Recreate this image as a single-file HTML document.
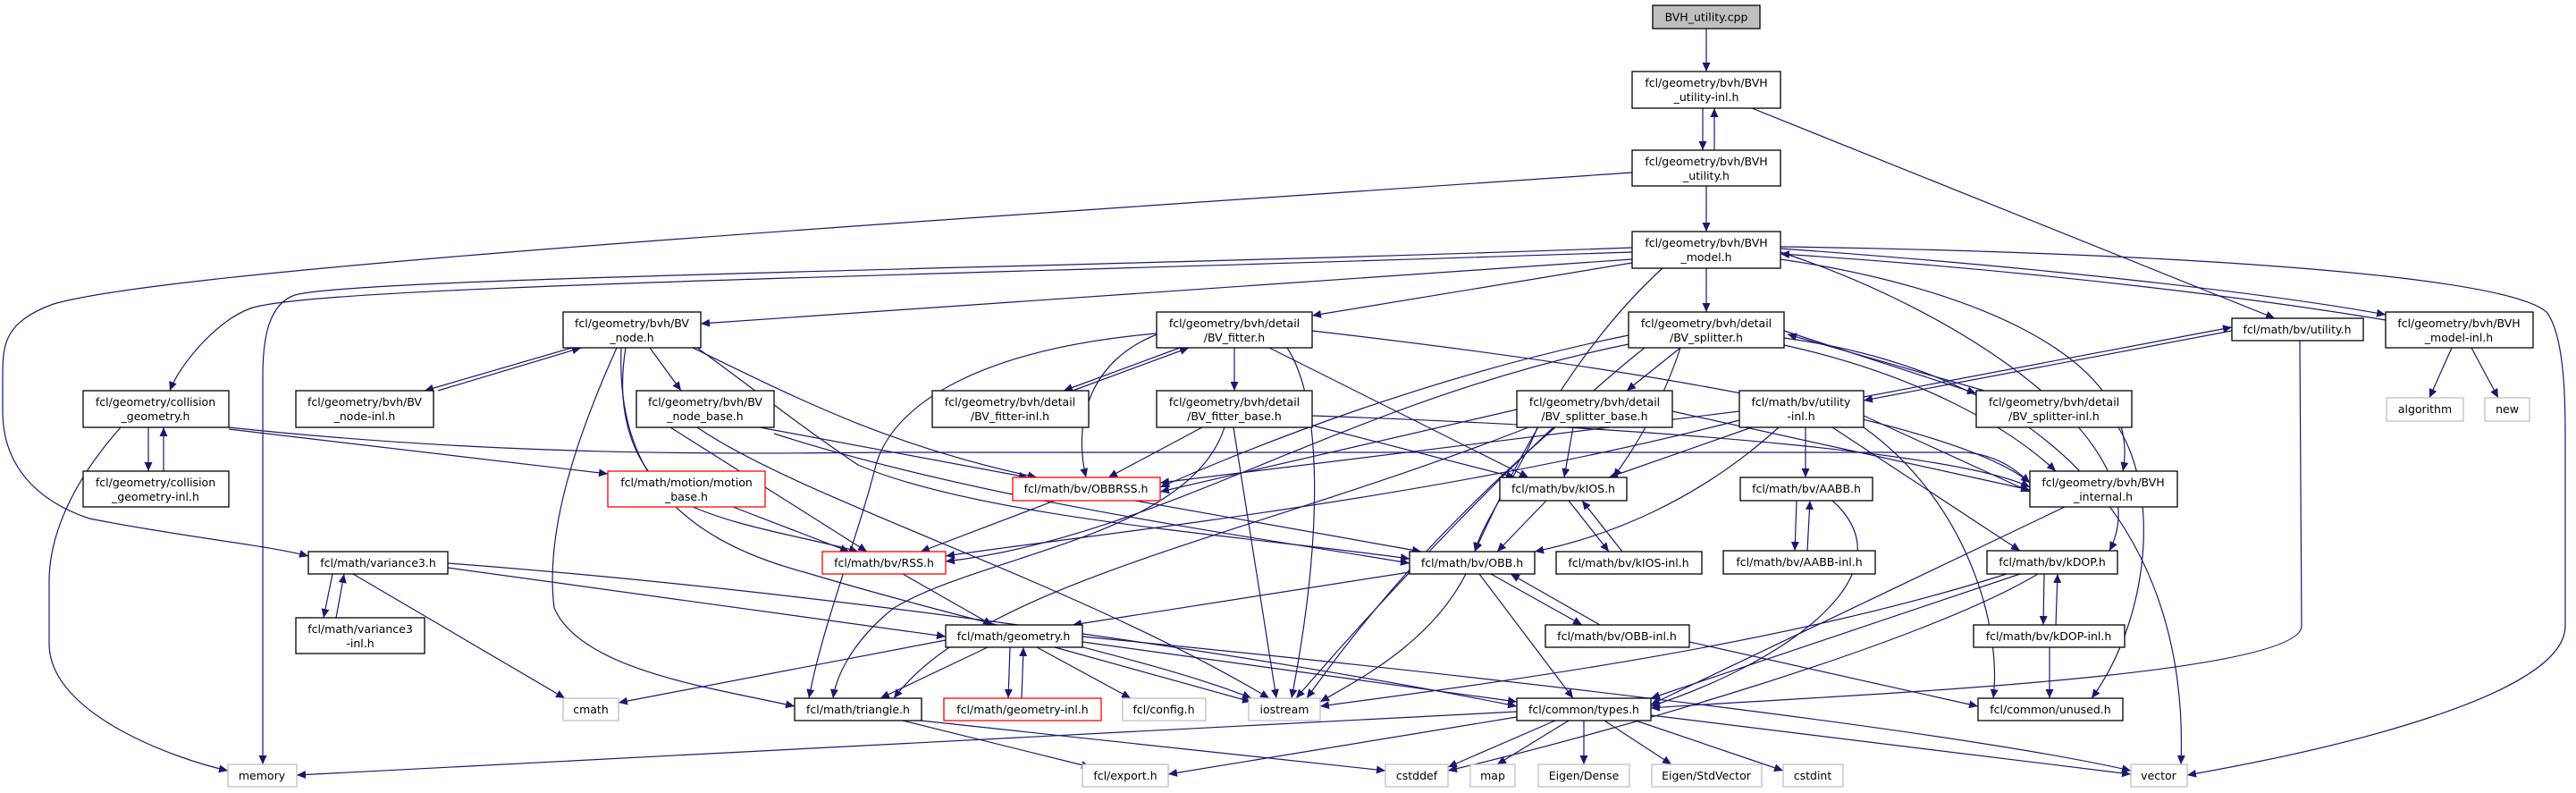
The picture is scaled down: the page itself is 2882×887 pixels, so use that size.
<!DOCTYPE html>
<html><head><meta charset="utf-8"><style>
html,body{margin:0;padding:0;background:#fff;}
svg{display:block;}
text{font-family:"DejaVu Sans","Liberation Sans",sans-serif;font-size:12.5px;fill:#000;}
.n{fill:#fff;stroke:#000;stroke-width:1.3;}
.r{fill:#fff;stroke:#ff0000;stroke-width:1.3;}
.g{fill:#fff;stroke:#bfbfbf;stroke-width:1.3;}
.e path{fill:none;stroke:#191970;stroke-width:1.2;}
</style></head><body>
<svg width="2882" height="887" viewBox="0 0 2882 887" xmlns="http://www.w3.org/2000/svg">
<defs><marker id="a" markerUnits="userSpaceOnUse" markerWidth="11" markerHeight="9" refX="10" refY="4.5" orient="auto"><path d="M0,0 L10,4.5 L0,9 z" fill="#191970"/></marker></defs>
<g class="e" marker-end="url(#a)">
<path d="M1909,32 L1909,80"/>
<path d="M1905,121 L1905,168"/>
<path d="M1918,168 L1918,121"/>
<path d="M1960,121 L2545,356"/>
<path d="M1909,208 L1909,259"/>
<path d="M1826,193 C1000,250 200,300 60,340 C5,360 3,385 3,420 L3,460 C3,520 40,560 100,580 C200,600 300,610 345,622"/>
<path d="M1826,277 C1200,300 400,310 330,330 C300,340 294,380 294,420 L294,855"/>
<path d="M1826,282 C1000,310 350,320 280,345 C240,360 200,410 190,437"/>
<path d="M1826,290 L784,362"/>
<path d="M1826,294 L1468,353"/>
<path d="M1909,300 L1909,349"/>
<path d="M1860,300 C1750,400 1680,550 1650,617"/>
<path d="M1992,278 C2300,300 2550,330 2669,352"/>
<path d="M2669,358 C2550,338 2300,304 1992,284"/>
<path d="M1992,276 C2300,280 2800,300 2850,350 C2870,380 2870,450 2870,500 L2870,700 C2870,780 2600,840 2447,867"/>
<path d="M1992,290 C2200,320 2400,400 2375,527"/>
<path d="M1992,282 C2200,350 2420,500 2360,616"/>
<path d="M2573,381 L2575,700 C2575,760 2000,780 1847,792"/>
<path d="M2497,370 L2085,448"/>
<path d="M2085,444 L2497,366"/>
<path d="M640,389 L475,437"/>
<path d="M490,437 L650,389"/>
<path d="M727,389 L762,437"/>
<path d="M775,389 C900,450 1000,500 1160,534"/>
<path d="M700,389 C690,450 700,520 760,560 C820,590 900,600 960,617"/>
<path d="M780,389 C850,440 900,480 960,520 C1100,580 1400,600 1577,625"/>
<path d="M690,389 C640,500 610,600 620,680 C650,750 800,770 889,790"/>
<path d="M695,389 C690,520 750,600 900,640 C1100,700 1300,740 1400,781"/>
<path d="M166,478 L166,527"/>
<path d="M183,527 L183,478"/>
<path d="M135,478 C80,540 55,600 55,650 L55,720 C55,800 200,850 255,862"/>
<path d="M256,480 L680,530"/>
<path d="M256,478 C600,515 900,506 1000,506 L2200,506 C2240,510 2260,530 2271,540"/>
<path d="M820,567 L950,617"/>
<path d="M850,478 L1150,534"/>
<path d="M750,478 L970,617"/>
<path d="M866,485 C1100,560 1400,600 1577,630"/>
<path d="M780,478 C900,560 1200,650 1420,781"/>
<path d="M1320,389 L1190,437"/>
<path d="M1200,437 L1330,389"/>
<path d="M1381,389 L1381,437"/>
<path d="M1300,372 C1220,400 1200,470 1215,534"/>
<path d="M1420,389 L1710,534"/>
<path d="M1440,389 C1480,450 1480,600 1445,781"/>
<path d="M1468,370 C1900,420 2200,480 2271,540"/>
<path d="M1294,373 C1100,390 1000,450 980,520 C960,600 920,700 905,781"/>
<path d="M1345,478 L1240,534"/>
<path d="M1465,475 L1695,534"/>
<path d="M1380,478 L1428,781"/>
<path d="M1370,478 C1330,600 1100,620 1000,680 C950,720 935,760 932,781"/>
<path d="M1468,465 C1900,480 2200,510 2271,545"/>
<path d="M1880,389 L1820,437"/>
<path d="M1996,370 L2211,440"/>
<path d="M2220,437 L2000,374"/>
<path d="M1822,375 C1600,420 1400,500 1298,545"/>
<path d="M1880,389 C1860,450 1830,500 1805,534"/>
<path d="M1840,389 C1700,500 1520,700 1450,781"/>
<path d="M1996,378 C2300,420 2450,600 2440,855"/>
<path d="M1996,386 C2150,420 2250,480 2300,527"/>
<path d="M1822,385 C1500,450 1300,600 1058,628"/>
<path d="M1697,458 L1298,550"/>
<path d="M1760,478 L1750,534"/>
<path d="M1720,478 C1700,530 1660,580 1650,617"/>
<path d="M1740,478 C1600,600 1520,700 1462,781"/>
<path d="M1871,460 L2271,548"/>
<path d="M1710,478 C1400,600 1100,650 1000,781"/>
<path d="M2020,478 L2020,534"/>
<path d="M1946,460 L1298,540"/>
<path d="M1960,478 L1800,534"/>
<path d="M1990,478 C1900,560 1800,600 1717,617"/>
<path d="M1946,470 C1600,560 1200,600 1058,622"/>
<path d="M2050,478 L2260,616"/>
<path d="M2085,465 L2271,550"/>
<path d="M2085,478 C2200,560 2240,700 2230,781"/>
<path d="M1730,560 L1675,617"/>
<path d="M1755,560 L1800,617"/>
<path d="M1815,617 L1770,560"/>
<path d="M1270,560 L1590,617"/>
<path d="M1180,560 L1030,617"/>
<path d="M2010,560 L2008,616"/>
<path d="M2022,616 L2025,560"/>
<path d="M2050,560 C2140,640 2000,740 1847,790"/>
<path d="M1010,642 L1110,699"/>
<path d="M1577,640 L1200,699"/>
<path d="M1640,642 C1600,720 1520,760 1477,785"/>
<path d="M1655,642 L1760,781"/>
<path d="M1668,642 L1770,699"/>
<path d="M1790,699 L1690,642"/>
<path d="M1890,718 L2213,790"/>
<path d="M372,642 L362,691"/>
<path d="M376,691 L385,642"/>
<path d="M395,642 L632,781"/>
<path d="M501,635 L1058,712"/>
<path d="M501,630 C900,660 1400,730 1697,790"/>
<path d="M2287,642 L2286,699"/>
<path d="M2300,699 L2302,642"/>
<path d="M2293,724 L2293,781"/>
<path d="M2260,642 L1847,781"/>
<path d="M2245,642 C2000,720 1700,760 1477,790"/>
<path d="M2280,642 C2150,720 1800,820 1620,862"/>
<path d="M1130,724 L1128,781"/>
<path d="M1143,781 L1145,724"/>
<path d="M1058,716 L692,786"/>
<path d="M1105,724 L985,781"/>
<path d="M1160,724 L1265,781"/>
<path d="M1180,724 L1400,785"/>
<path d="M1211,718 L1697,785"/>
<path d="M1211,712 C1700,760 2200,820 2384,862"/>
<path d="M1010,806 L1220,858"/>
<path d="M1030,806 L1550,862"/>
<path d="M1697,796 L332,867"/>
<path d="M1697,802 L1307,866"/>
<path d="M1740,806 L1620,858"/>
<path d="M1755,806 L1675,855"/>
<path d="M1772,806 L1772,855"/>
<path d="M1795,806 L1870,855"/>
<path d="M1830,806 L1995,862"/>
<path d="M1847,800 L2384,866"/>
<path d="M2310,567 L1847,788"/>
<path d="M2370,478 C2420,560 2400,700 2340,781"/>
<path d="M2743,389 L2718,445"/>
<path d="M2765,389 L2795,445"/>
</g>
<g>
<rect x="1849" y="6" width="120" height="26" fill="#bfbfbf" stroke="#000" stroke-width="1.3"/><text x="1909" y="23.5" text-anchor="middle">BVH_utility.cpp</text>
<rect class="n" x="1826" y="80" width="166" height="41"/><text x="1909" y="97" text-anchor="middle">fcl/geometry/bvh/BVH</text><text x="1909" y="113" text-anchor="middle">_utility-inl.h</text>
<rect class="n" x="1826" y="168" width="166" height="40"/><text x="1909" y="185" text-anchor="middle">fcl/geometry/bvh/BVH</text><text x="1909" y="201" text-anchor="middle">_utility.h</text>
<rect class="n" x="1826" y="259" width="166" height="41"/><text x="1909" y="276" text-anchor="middle">fcl/geometry/bvh/BVH</text><text x="1909" y="292" text-anchor="middle">_model.h</text>
<rect class="n" x="630" y="349" width="154" height="40"/><text x="707" y="366" text-anchor="middle">fcl/geometry/bvh/BV</text><text x="707" y="382" text-anchor="middle">_node.h</text>
<rect class="n" x="1294" y="349" width="174" height="40"/><text x="1381" y="366" text-anchor="middle">fcl/geometry/bvh/detail</text><text x="1381" y="382" text-anchor="middle">/BV_fitter.h</text>
<rect class="n" x="1822" y="349" width="174" height="40"/><text x="1909" y="366" text-anchor="middle">fcl/geometry/bvh/detail</text><text x="1909" y="382" text-anchor="middle">/BV_splitter.h</text>
<rect class="n" x="2497" y="356" width="147" height="25"/><text x="2570" y="373" text-anchor="middle">fcl/math/bv/utility.h</text>
<rect class="n" x="2669" y="349" width="165" height="40"/><text x="2751" y="366" text-anchor="middle">fcl/geometry/bvh/BVH</text><text x="2751" y="382" text-anchor="middle">_model-inl.h</text>
<rect class="n" x="93" y="437" width="163" height="41"/><text x="174" y="454" text-anchor="middle">fcl/geometry/collision</text><text x="174" y="470" text-anchor="middle">_geometry.h</text>
<rect class="n" x="331" y="437" width="154" height="41"/><text x="408" y="454" text-anchor="middle">fcl/geometry/bvh/BV</text><text x="408" y="470" text-anchor="middle">_node-inl.h</text>
<rect class="n" x="712" y="437" width="154" height="41"/><text x="789" y="454" text-anchor="middle">fcl/geometry/bvh/BV</text><text x="789" y="470" text-anchor="middle">_node_base.h</text>
<rect class="n" x="1043" y="437" width="175" height="41"/><text x="1130" y="454" text-anchor="middle">fcl/geometry/bvh/detail</text><text x="1130" y="470" text-anchor="middle">/BV_fitter-inl.h</text>
<rect class="n" x="1294" y="437" width="174" height="41"/><text x="1381" y="454" text-anchor="middle">fcl/geometry/bvh/detail</text><text x="1381" y="470" text-anchor="middle">/BV_fitter_base.h</text>
<rect class="n" x="1697" y="437" width="174" height="41"/><text x="1784" y="454" text-anchor="middle">fcl/geometry/bvh/detail</text><text x="1784" y="470" text-anchor="middle">/BV_splitter_base.h</text>
<rect class="n" x="1946" y="437" width="139" height="41"/><text x="2015" y="454" text-anchor="middle">fcl/math/bv/utility</text><text x="2015" y="470" text-anchor="middle">-inl.h</text>
<rect class="n" x="2211" y="437" width="174" height="41"/><text x="2298" y="454" text-anchor="middle">fcl/geometry/bvh/detail</text><text x="2298" y="470" text-anchor="middle">/BV_splitter-inl.h</text>
<rect class="g" x="2670" y="445" width="86" height="26"/><text x="2713" y="462" text-anchor="middle">algorithm</text>
<rect class="g" x="2780" y="445" width="50" height="26"/><text x="2805" y="462" text-anchor="middle">new</text>
<rect class="n" x="93" y="527" width="163" height="40"/><text x="174" y="544" text-anchor="middle">fcl/geometry/collision</text><text x="174" y="560" text-anchor="middle">_geometry-inl.h</text>
<rect class="r" x="680" y="527" width="176" height="40"/><text x="768" y="544" text-anchor="middle">fcl/math/motion/motion</text><text x="768" y="560" text-anchor="middle">_base.h</text>
<rect class="r" x="1133" y="534" width="165" height="26"/><text x="1215" y="551" text-anchor="middle">fcl/math/bv/OBBRSS.h</text>
<rect class="n" x="1678" y="534" width="142" height="26"/><text x="1749" y="551" text-anchor="middle">fcl/math/bv/kIOS.h</text>
<rect class="n" x="1947" y="534" width="148" height="26"/><text x="2021" y="551" text-anchor="middle">fcl/math/bv/AABB.h</text>
<rect class="n" x="2271" y="527" width="165" height="40"/><text x="2353" y="544" text-anchor="middle">fcl/geometry/bvh/BVH</text><text x="2353" y="560" text-anchor="middle">_internal.h</text>
<rect class="n" x="345" y="617" width="156" height="25"/><text x="423" y="634" text-anchor="middle">fcl/math/variance3.h</text>
<rect class="r" x="920" y="617" width="138" height="25"/><text x="989" y="634" text-anchor="middle">fcl/math/bv/RSS.h</text>
<rect class="n" x="1577" y="617" width="140" height="25"/><text x="1647" y="634" text-anchor="middle">fcl/math/bv/OBB.h</text>
<rect class="n" x="1741" y="617" width="163" height="25"/><text x="1822" y="634" text-anchor="middle">fcl/math/bv/kIOS-inl.h</text>
<rect class="n" x="1928" y="616" width="170" height="26"/><text x="2013" y="633" text-anchor="middle">fcl/math/bv/AABB-inl.h</text>
<rect class="n" x="2223" y="616" width="146" height="26"/><text x="2296" y="633" text-anchor="middle">fcl/math/bv/kDOP.h</text>
<rect class="n" x="331" y="691" width="144" height="40"/><text x="403" y="708" text-anchor="middle">fcl/math/variance3</text><text x="403" y="724" text-anchor="middle">-inl.h</text>
<rect class="n" x="1058" y="699" width="153" height="25"/><text x="1134" y="716" text-anchor="middle">fcl/math/geometry.h</text>
<rect class="n" x="1729" y="699" width="161" height="25"/><text x="1809" y="716" text-anchor="middle">fcl/math/bv/OBB-inl.h</text>
<rect class="n" x="2208" y="699" width="169" height="25"/><text x="2292" y="716" text-anchor="middle">fcl/math/bv/kDOP-inl.h</text>
<rect class="g" x="630" y="781" width="62" height="25"/><text x="661" y="798" text-anchor="middle">cmath</text>
<rect class="n" x="889" y="781" width="142" height="25"/><text x="960" y="798" text-anchor="middle">fcl/math/triangle.h</text>
<rect class="r" x="1056" y="781" width="176" height="25"/><text x="1144" y="798" text-anchor="middle">fcl/math/geometry-inl.h</text>
<rect class="g" x="1256" y="781" width="93" height="25"/><text x="1302" y="798" text-anchor="middle">fcl/config.h</text>
<rect class="g" x="1397" y="781" width="80" height="25"/><text x="1437" y="798" text-anchor="middle">iostream</text>
<rect class="n" x="1697" y="781" width="150" height="25"/><text x="1772" y="798" text-anchor="middle">fcl/common/types.h</text>
<rect class="n" x="2213" y="781" width="162" height="25"/><text x="2294" y="798" text-anchor="middle">fcl/common/unused.h</text>
<rect class="g" x="255" y="855" width="77" height="25"/><text x="293" y="872" text-anchor="middle">memory</text>
<rect class="g" x="1211" y="855" width="96" height="25"/><text x="1259" y="872" text-anchor="middle">fcl/export.h</text>
<rect class="g" x="1550" y="855" width="70" height="25"/><text x="1585" y="872" text-anchor="middle">cstddef</text>
<rect class="g" x="1645" y="855" width="50" height="25"/><text x="1670" y="872" text-anchor="middle">map</text>
<rect class="g" x="1721" y="855" width="102" height="25"/><text x="1772" y="872" text-anchor="middle">Eigen/Dense</text>
<rect class="g" x="1848" y="855" width="123" height="25"/><text x="1909" y="872" text-anchor="middle">Eigen/StdVector</text>
<rect class="g" x="1995" y="855" width="67" height="25"/><text x="2028" y="872" text-anchor="middle">cstdint</text>
<rect class="g" x="2384" y="855" width="63" height="25"/><text x="2415" y="872" text-anchor="middle">vector</text>
</g>
</svg>
</body></html>
